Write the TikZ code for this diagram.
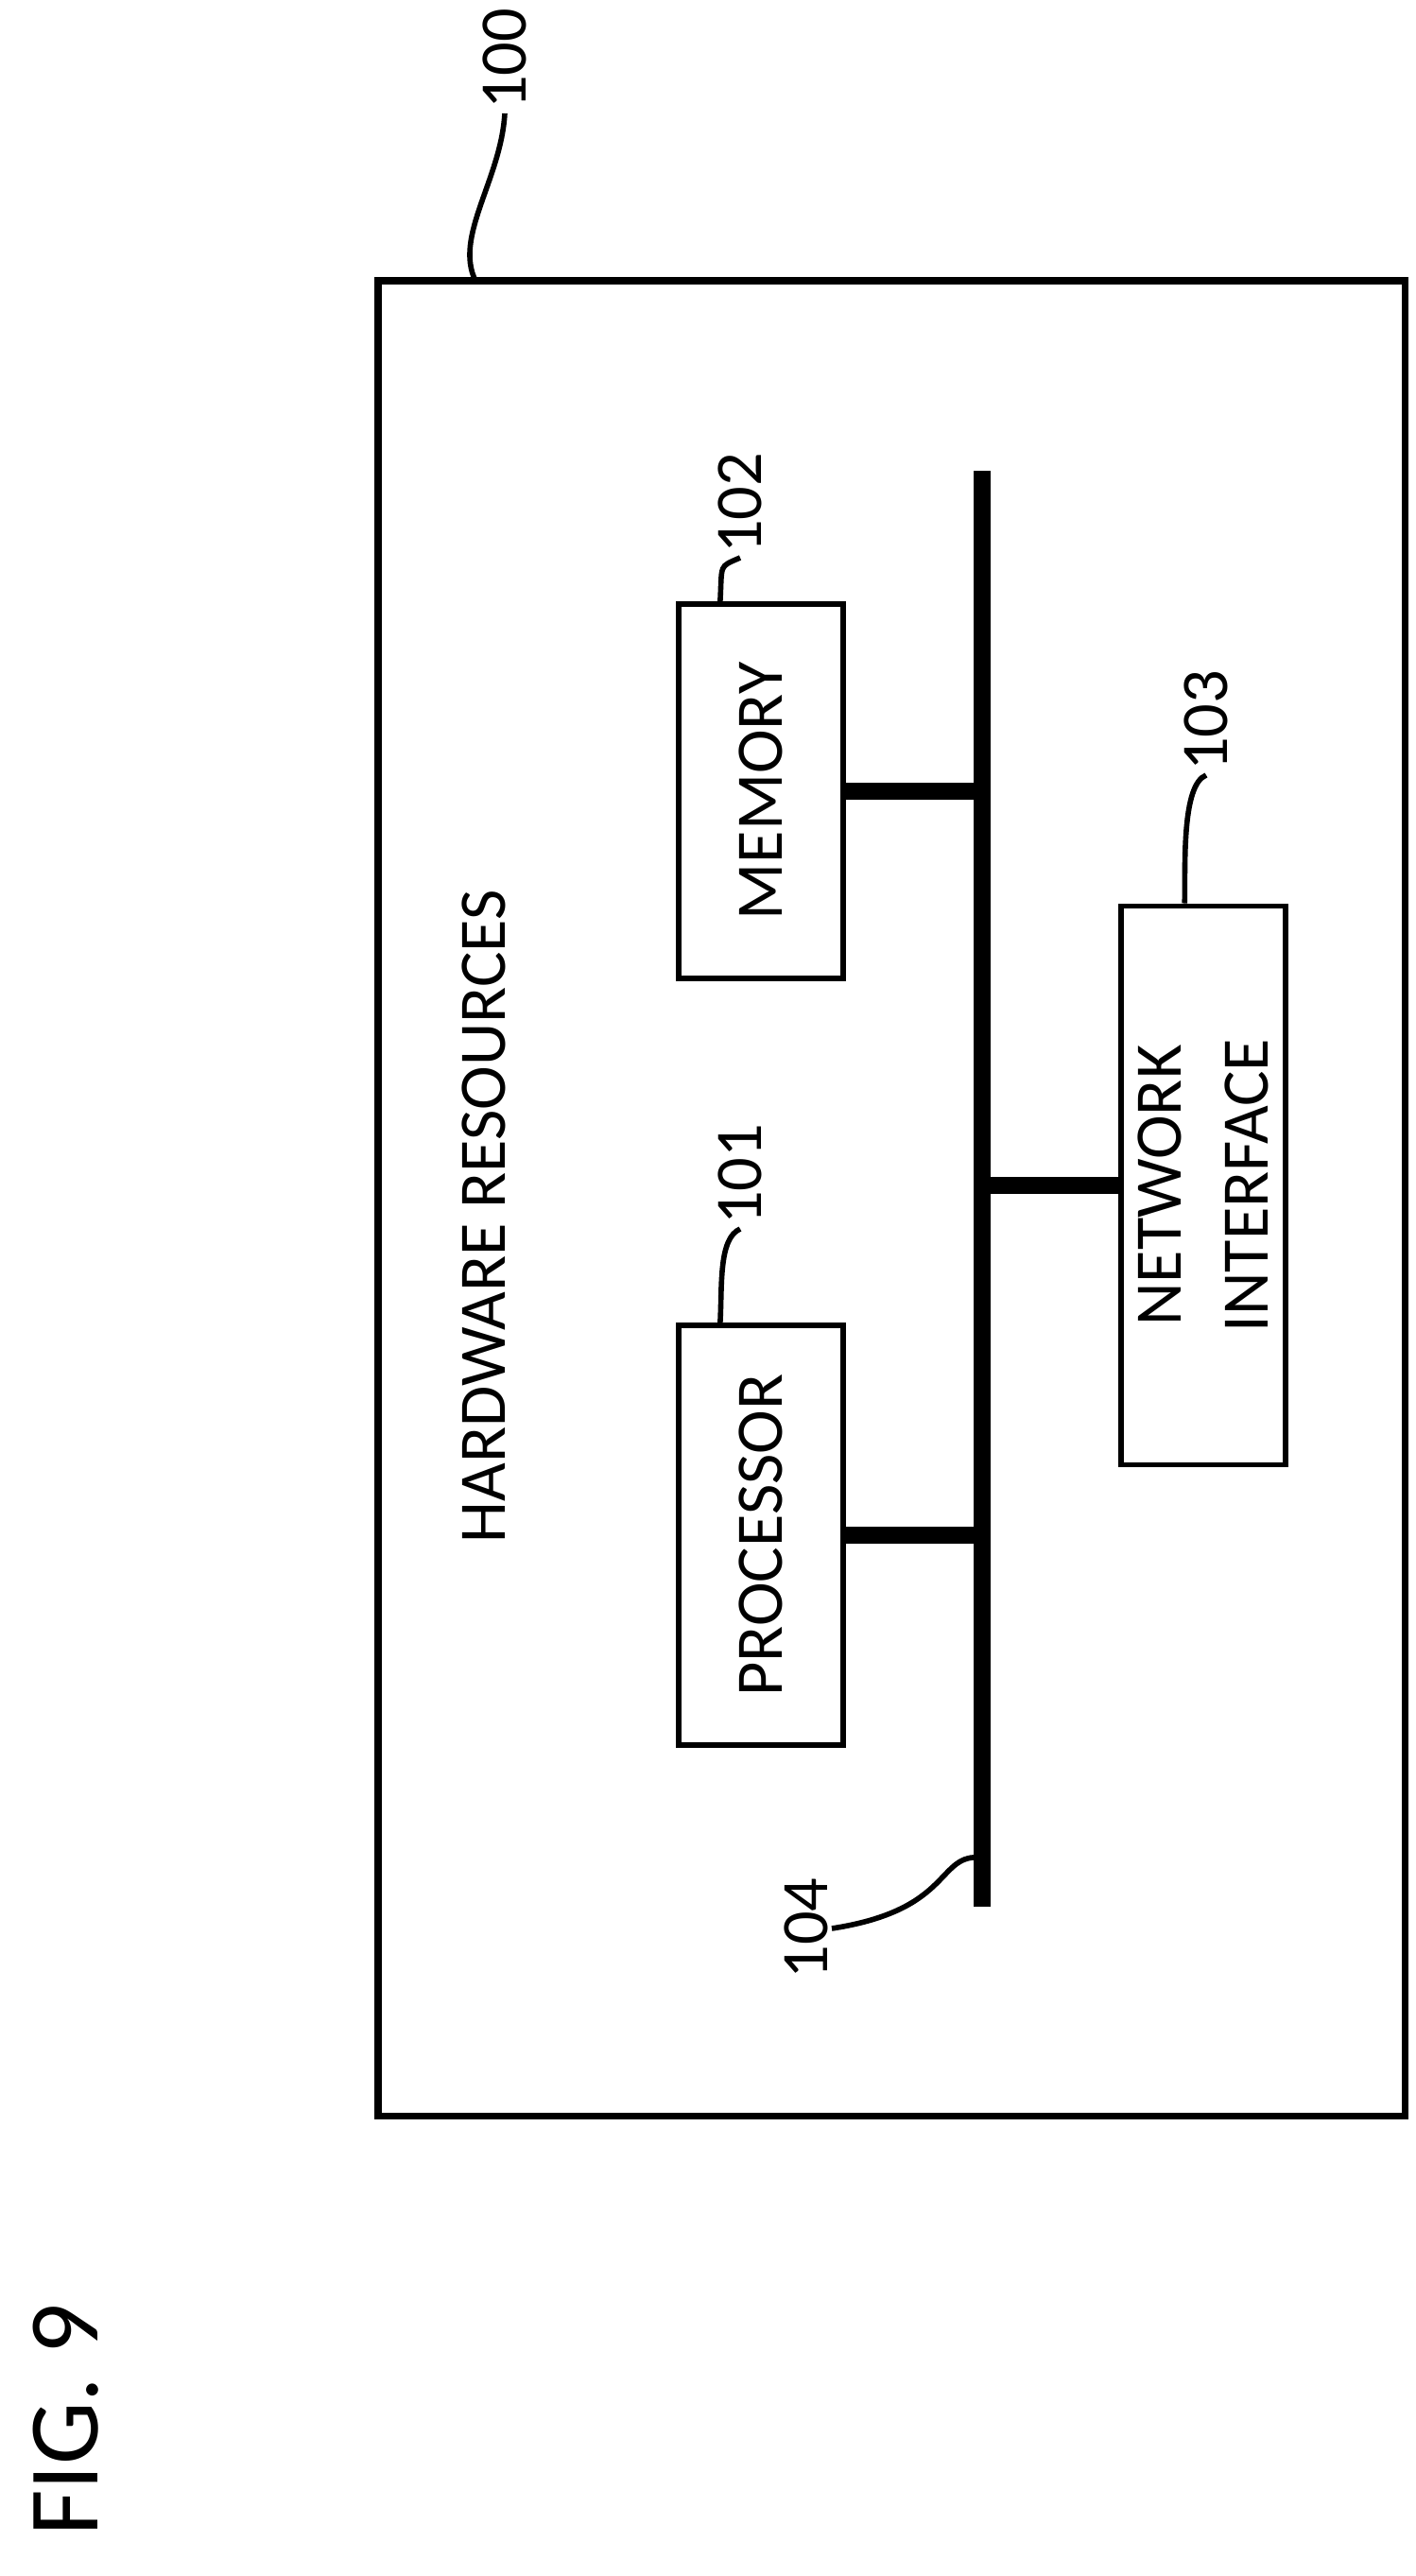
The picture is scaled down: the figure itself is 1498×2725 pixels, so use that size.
\documentclass[tikz,border=0pt]{standalone}
\usepackage{fontspec}
\setmainfont{Carlito}
\usetikzlibrary{positioning,calc}
\tikzset{unit/.style={draw,line width=1.6pt,minimum height=1.74cm,inner sep=0pt,rotate=90,align=center,font=\fontsize{20}{26}\selectfont},
  refnum/.style={rotate=90,font=\fontsize{20}{24}\selectfont,inner sep=1pt},
  leader/.style={line width=1.6pt},
  bus/.style={line width=5pt},
}
\begin{document}
\begin{tikzpicture}[x=0.01cm,y=-0.01cm]
  \useasboundingbox (0,0) rectangle (1498,2725);
  \draw[line width=2pt] (400,297) rectangle (1486,2238);
  \node[rotate=90,font=\fontsize{20}{24}\selectfont] (hw) at (512,1287) {HARDWARE RESOURCES};

  \node[unit,minimum width=3.96cm] (mem) at (805,837) {MEMORY};
  \node[unit,minimum width=4.44cm] (proc) at (805,1624) {PROCESSOR};
  \node[unit,minimum width=5.91cm] (net) at (1273,1254) {NETWORK\\INTERFACE};

  \coordinate (bt) at (1039,498);
  \coordinate (bb) at (1039,2017);
  \draw[bus] (bt) -- (bb);
  \draw[bus] (mem.south) -- (mem.south -| bt);
  \draw[bus] (proc.south) -- (proc.south -| bt);
  \draw[bus] (net.north) -- (net.north -| bt);

  % reference numerals
  \node[refnum,anchor=west] (n100) at (534,120) {100};
  \node[refnum,anchor=west] (n101) at (783,1300) {101};
  \node[refnum,anchor=west] (n102) at (783,590) {102};
  \node[refnum,anchor=west] (n103) at (1276,820) {103};
  \node[refnum,anchor=south] (n104) at (880,2040) {104};
  \coordinate (c100) at (503,297);
  \coordinate (c104) at (1039,1965);
  \draw[leader] (c100) .. controls (480,250) and (530,190) .. (n100.west);
  \draw[leader] ($(proc.north east)!0.26!(proc.south east)$) .. controls (764,1360) and (760,1310) .. (n101.west);
  \draw[leader] ($(mem.north east)!0.26!(mem.south east)$) .. controls (764,596) and (760,600) .. (n102.west);
  \draw[leader] ($(net.north east)!0.39!(net.south east)$) .. controls (1254,915) and (1250,830) .. (n103.west);
  \draw[leader] (c104) .. controls (990,1960) and (1010,2020) .. (n104.south);

  \node[rotate=90,font=\fontsize{30}{34}\selectfont] (fig) at (70,2560) {FIG. 9};
\end{tikzpicture}
\end{document}
